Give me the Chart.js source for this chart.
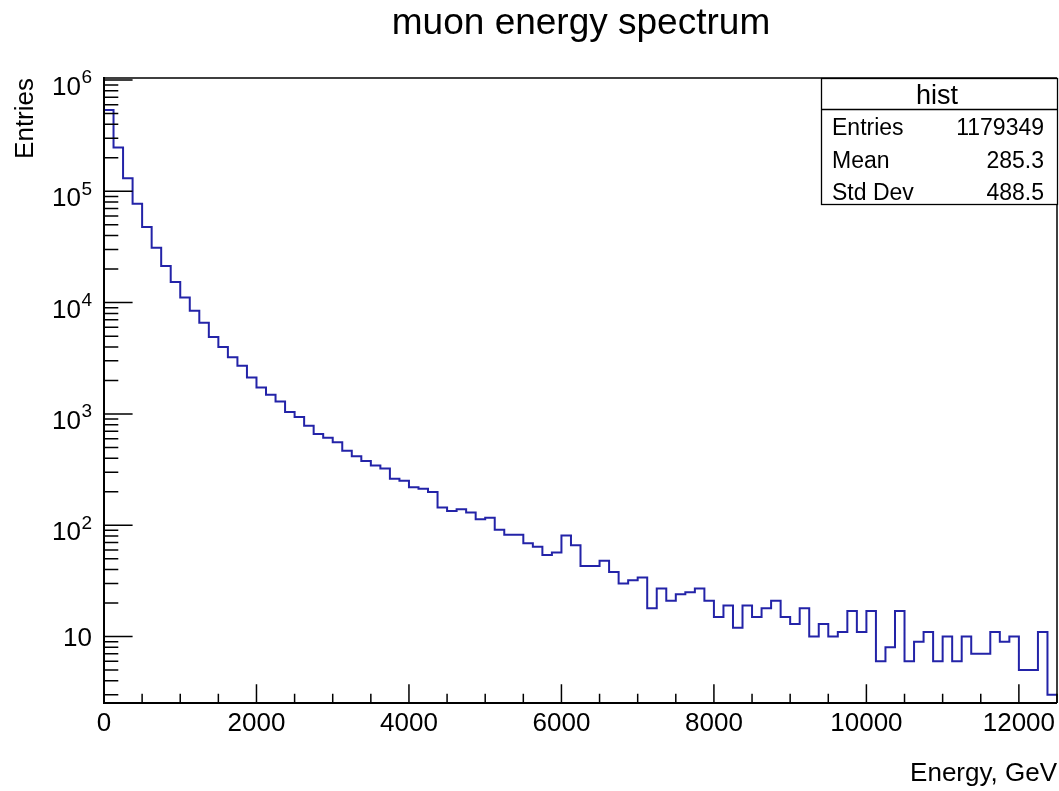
<!DOCTYPE html>
<html>
<head>
<meta charset="utf-8">
<title>muon energy spectrum</title>
<script src="https://cdn.jsdelivr.net/npm/chart.js@4.4.1/dist/chart.umd.min.js"></script>
<style>
  html, body { margin: 0; padding: 0; background: #ffffff; }
  #wrap { width: 1059px; height: 791px; position: relative; }
  canvas { display: block; }
</style>
</head>
<body>
<div id="wrap"><canvas id="spectrum" width="1059" height="791"></canvas></div>
<script>
// Histogram binning (GeV)
const binWidth = 125;
const xMin = 0;
const xMax = 12500;

// Bin contents, 100 bins of 125 GeV
const counts = [
  537000, 248000, 131000, 77400, 47800, 31100, 21300, 15300, 11100, 8460,
  6590, 4910, 3990, 3230, 2710, 2130, 1730, 1490, 1290, 1040,
  937, 783, 660, 611, 556, 468, 416, 378, 345, 324,
  262, 251, 220, 213, 199, 144, 134, 139, 130, 113,
  117, 91, 82, 82, 69, 64, 54, 57, 81, 66,
  43, 43, 48, 38, 30, 32, 34, 18, 27, 21,
  24, 25, 27, 21, 15, 19, 12, 19, 15, 18,
  21, 15, 13, 18, 10, 13, 10, 11, 17, 11,
  17, 6, 8, 17, 6, 9, 11, 6, 10, 6,
  10, 7, 7, 11, 9, 10, 5, 5, 11, 3
];

// Axis ranges and tick labels
const yMin = 2.53;
const yMax = 1.042e6;
const xMajorTicks = [0, 2000, 4000, 6000, 8000, 10000, 12000];
const xMinorStep = 500;
const yDecadeExponents = [1, 2, 3, 4, 5, 6];

// Text
const chartTitle = 'muon energy spectrum';
const xTitle = 'Energy, GeV';
const yTitle = 'Entries';
const statsName = 'hist';
const statsLabels = ['Entries', 'Mean', 'Std Dev'];
const statsValues = ['1179349', '285.3', '488.5'];

const FONT = '"Liberation Sans", Arial, Helvetica, sans-serif';

// Step-histogram points: left edge of each bin, plus the closing right edge
const points = [{ x: xMin, y: counts[0] }];
counts.forEach((v, i) => points.push({ x: xMin + (i + 1) * binWidth, y: v }));

// Frame, inward ticks, labels, titles and the statistics box
const rootFrame = {
  id: 'rootFrame',
  afterDraw(chart) {
    const { ctx, chartArea: a, scales } = chart;
    const sx = scales.x, sy = scales.y;
    const w = a.right - a.left, h = a.bottom - a.top;
    ctx.save();
    ctx.strokeStyle = '#000';
    ctx.fillStyle = '#000';

    // frame
    ctx.lineWidth = 1.5;
    ctx.beginPath();
    ctx.moveTo(a.left, a.top); ctx.lineTo(a.right, a.top);
    ctx.moveTo(a.right, a.top); ctx.lineTo(a.right, a.bottom);
    ctx.stroke();
    ctx.lineWidth = 2;
    ctx.beginPath();
    ctx.moveTo(a.left, a.top - 1); ctx.lineTo(a.left, a.bottom + 1);
    ctx.moveTo(a.left - 1, a.bottom); ctx.lineTo(a.right, a.bottom);
    ctx.stroke();

    // x ticks (pointing up into the frame)
    const xMajLen = 0.03 * h, xMinLen = 0.015 * h;
    ctx.lineWidth = 1.5;
    ctx.beginPath();
    for (let v = xMin; v <= xMax; v += xMinorStep) {
      const px = sx.getPixelForValue(v);
      const len = xMajorTicks.includes(v) ? xMajLen : xMinLen;
      ctx.moveTo(px, a.bottom); ctx.lineTo(px, a.bottom - len);
    }
    ctx.stroke();

    // y ticks (pointing right into the frame)
    const yMajLen = 0.03 * w, yMinLen = 0.015 * w;
    ctx.beginPath();
    for (let e = 0; e <= 6; e++) {
      for (let m = 1; m <= 9; m++) {
        const v = m * Math.pow(10, e);
        if (v < yMin || v > yMax) continue;
        const py = sy.getPixelForValue(v);
        ctx.moveTo(a.left, py); ctx.lineTo(a.left + (m === 1 ? yMajLen : yMinLen), py);
      }
    }
    ctx.stroke();

    // x tick labels
    ctx.font = '26px ' + FONT;
    ctx.textAlign = 'center';
    ctx.textBaseline = 'alphabetic';
    xMajorTicks.forEach(v => {
      ctx.fillText(String(v), sx.getPixelForValue(v), a.bottom + 28);
    });

    // y tick labels: 10 with a raised exponent, plain "10" for the first decade
    const labelRight = a.left - 12;
    yDecadeExponents.forEach(e => {
      const py = sy.getPixelForValue(Math.pow(10, e));
      ctx.textAlign = 'right';
      if (e === 1) {
        ctx.font = '26px ' + FONT;
        ctx.fillText('10', labelRight, py + 9.5);
      } else {
        ctx.font = '19px ' + FONT;
        const ew = ctx.measureText(String(e)).width;
        ctx.fillText(String(e), labelRight, py + 3.5);
        ctx.font = '26px ' + FONT;
        ctx.fillText('10', labelRight - ew - 0.5, py + 15);
      }
    });

    // axis titles
    ctx.font = '26px ' + FONT;
    ctx.textAlign = 'right';
    ctx.fillText(xTitle, a.right, 781);
    ctx.save();
    ctx.translate(33, a.top);
    ctx.rotate(-Math.PI / 2);
    ctx.textAlign = 'right';
    ctx.fillText(yTitle, 0, 0);
    ctx.restore();

    // title
    ctx.font = '37px ' + FONT;
    ctx.textAlign = 'center';
    ctx.fillText(chartTitle, 581, 34);

    // statistics box
    const bx0 = 821, by0 = 78, bx1 = 1058, by1 = 205, hdr = 109;
    ctx.fillStyle = '#fff';
    ctx.fillRect(bx0, by0, bx1 - bx0, by1 - by0);
    ctx.fillStyle = '#000';
    ctx.lineWidth = 1.3;
    ctx.strokeRect(bx0 + 0.5, by0 + 0.5, bx1 - bx0 - 1, by1 - by0 - 1);
    ctx.beginPath();
    ctx.moveTo(bx0, hdr + 0.5); ctx.lineTo(bx1, hdr + 0.5);
    ctx.stroke();
    ctx.font = '27px ' + FONT;
    ctx.textAlign = 'center';
    ctx.fillText(statsName, 937, 104);
    ctx.font = '23px ' + FONT;
    statsLabels.forEach((lab, i) => {
      const base = 135 + i * 32.5;
      ctx.textAlign = 'left';
      ctx.fillText(lab, 832, base);
      ctx.textAlign = 'right';
      ctx.fillText(statsValues[i], 1044, base);
    });

    ctx.restore();
  }
};

new Chart(document.getElementById('spectrum'), {
  type: 'line',
  data: {
    datasets: [{
      label: statsName,
      data: points,
      stepped: 'after',
      borderColor: '#2323a8',
      borderWidth: 2,
      pointRadius: 0,
      fill: false,
      tension: 0
    }]
  },
  options: {
    responsive: false,
    animation: false,
    events: [],
    layout: { padding: { left: 104, top: 78, right: 2, bottom: 88 } },
    plugins: {
      legend: { display: false },
      tooltip: { enabled: false },
      title: { display: false }
    },
    scales: {
      x: { type: 'linear', min: xMin, max: xMax, display: false },
      y: { type: 'logarithmic', min: yMin, max: yMax, display: false }
    }
  },
  plugins: [rootFrame]
});
</script>
</body>
</html>
